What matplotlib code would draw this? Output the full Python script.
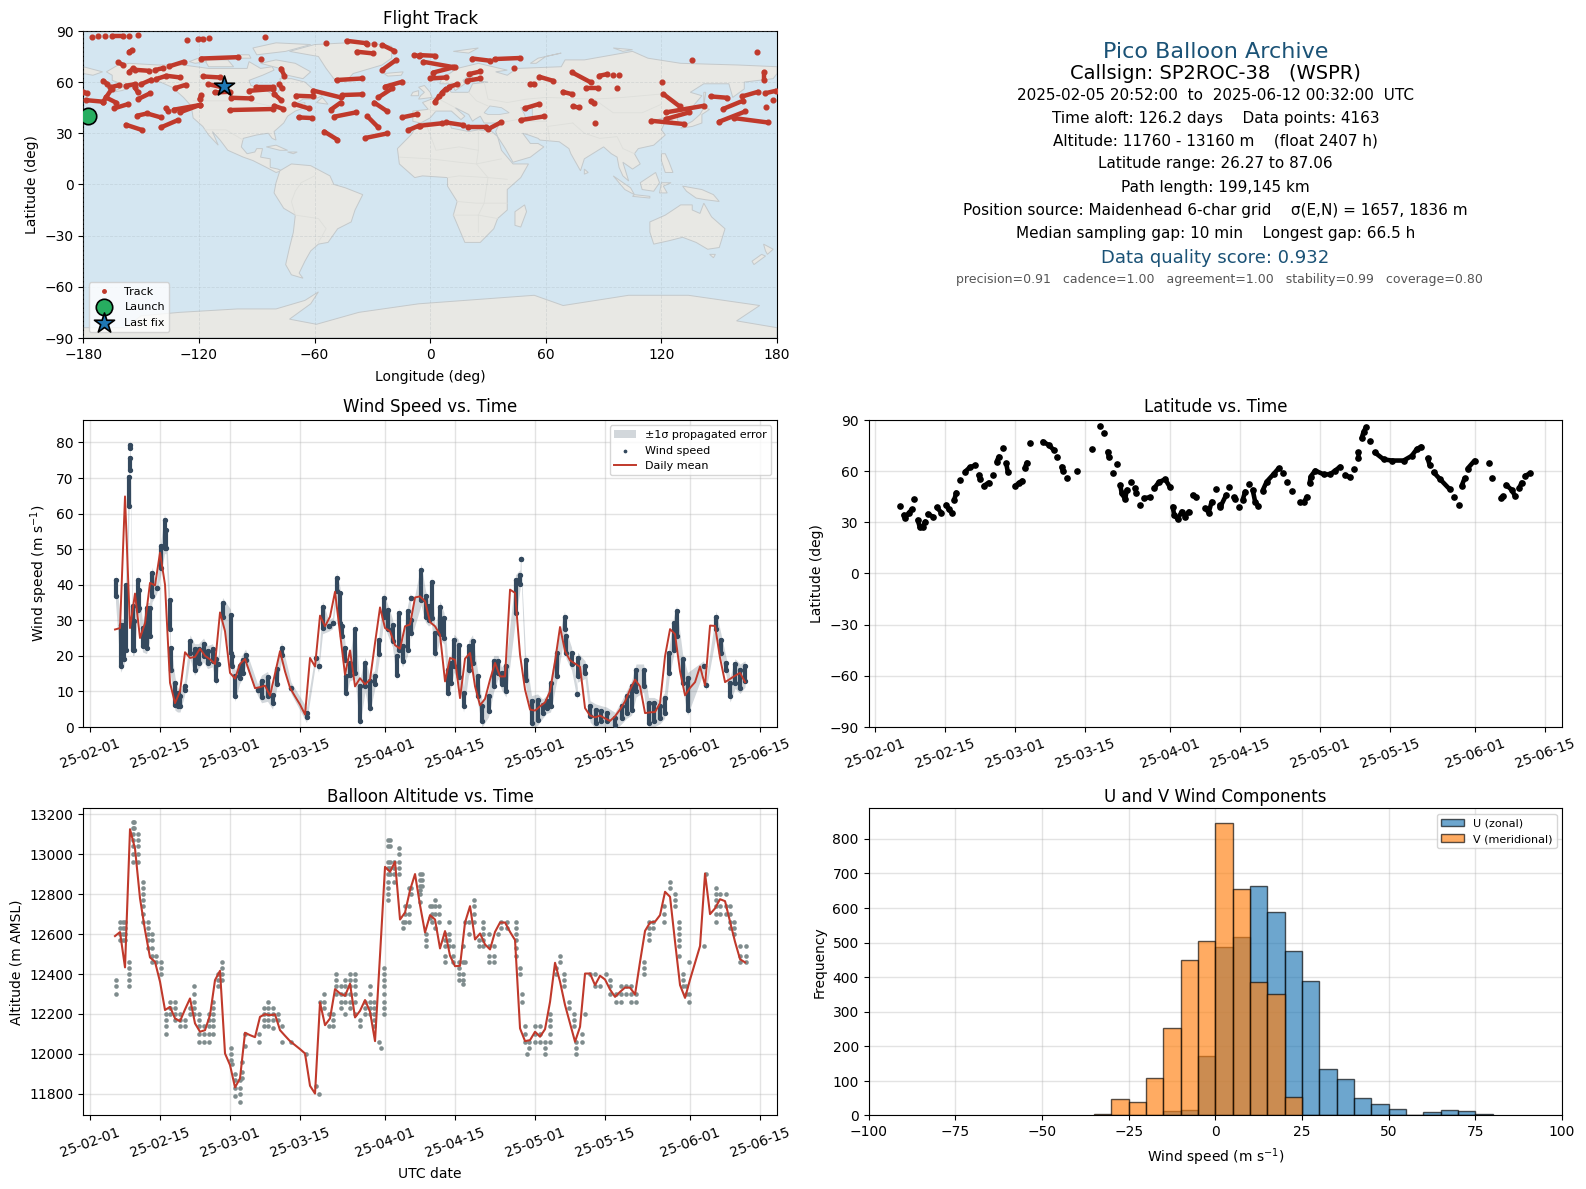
import datetime

import numpy as np
import matplotlib as mpl
mpl.use('Agg')
from matplotlib import pyplot as plt
from matplotlib.lines import Line2D
from matplotlib.patches import Polygon
import matplotlib.dates as mdates

W, H = 1586, 1189

# ---- wind speed ----
# daily means from 25-02-06 on
wind_daily = [27.4, 27.8, 64.8, 27.8, 37.5, 25, 29.2, 40.5, 39.8, 49, 40, 12.4, 6.7, 10, 21, 19.4, 19.7, 22, 20, 19,
              17.7, 32.2, 26.9, 15.2, 13.6, 17.7, 19.1, 15, 10.9, 11.2, 11.6, 8.8, 15, 21.3, 15.6, 11, 8.6, 6.3, 3.5,
              19.4, 17, 31.3, 28.3, 31, 38, 26.4, 14.7, 21.5, 11.4, 13.7, 12, 13.3, 23.6, 33.6, 27.8, 26.9, 23, 22,
              28.3, 28.8, 36.4, 36.7, 35.3, 29.5, 28.3, 25.9, 12.8, 19.4, 18.9, 8.1, 19.2, 20.8, 11.4, 6.1, 7.9, 13.3,
              18, 14.2, 14.2, 38.6, 37.7, 20.3, 10.5, 4.9, 4.6, 5.8, 6.9, 10, 18.5, 28.1, 21.3, 18.7, 17.8, 16.9, 5.3,
              3.2, 2.7, 3.2, 2.4, 1.7, 3, 4.9, 7.2, 10.5, 13.3, 11.4, 3.9, 4.1, 4.2, 6.7, 19.9, 27.5, 26.1, 15.6, 8.9,
              11, 12.6, 17, 11.7, 28.5, 28.4, 19.4, 12.6, 13.5, 14.4, 15.2, 12.6]
# stacks of points: day since 25-02-01, top and bottom of the stack
wind_stacks = [(5.1, 41.4, 36.7), (6.1, 28.8, 17), (6.8, 28.8, 19), (7.1, 40, 21.7), (7.8, 70.4, 62), (7.9, 75.6, 72.3),
               (8.0, 79.3, 78.4), (8.5, 34, 21.7), (8.8, 29.8, 21.7), (9.5, 41.4, 32.9), (9.7, 38.6, 33.5),
               (10.5, 27.8, 22.7), (11.3, 33.4, 22.2), (11.9, 33.4, 25.5), (12.4, 43.3, 36.7), (13.3, 39, 39),
               (14.2, 51, 44.8), (14.9, 58.3, 50.3), (15.2, 55.5, 50.3), (15.9, 35.8, 27.5), (16.1, 22.2, 16.1),
               (17, 12.4, 6.3), (17.5, 9.6, 5.8), (18, 8.6, 5.8), (18.9, 11.4, 10.5), (20, 24.3, 20.9),
               (20.9, 21.8, 16.1), (21.7, 21.8, 18), (22.7, 23.4, 19.9), (23.5, 21.3, 18), (24.5, 21.8, 18.5),
               (25.2, 19, 13.3), (25.6, 17.6, 17.6), (26.5, 34.8, 31), (28.1, 31.5, 20.8), (28.3, 19.9, 17),
               (29, 14.4, 8.8), (29.9, 17, 13.7), (30.5, 18.9, 15.2), (31.1, 20.3, 18.9), (33.5, 10.5, 10.5),
               (34.3, 13, 8.4), (35.5, 14, 8.8), (36.5, 9, 6.6), (37.3, 16.4, 12.2), (38.3, 22.2, 20.3), (40.2, 11, 11),
               (43.3, 3.9, 2.8), (45.1, 19.4, 19.4), (45.7, 17, 17), (46.5, 33.8, 27.8), (47.7, 28.5, 28.5),
               (48.5, 29.2, 29.2), (49.3, 41.9, 38.2), (50, 37.6, 29.2), (50.3, 28.3, 25.5), (51.0, 22.2, 18.9),
               (51.1, 14.2, 9.6), (51.9, 18, 14.5), (53, 27.5, 15.2), (53.9, 11.4, 1.6), (55, 18, 11.4),
               (55.9, 12.9, 5.4), (56.9, 14.2, 12), (57.8, 24.5, 20.4), (58.7, 36.2, 31), (59.5, 33, 27.5),
               (60.5, 28.8, 24.1), (61.3, 20, 14.7), (61.7, 32, 21.7), (62.5, 22.7, 18.5), (63.5, 32.5, 21.7),
               (64.1, 36.2, 36.2), (64.2, 30, 26.4), (66.2, 44.2, 35.8), (67.1, 36.7, 31), (67.7, 33.9, 30),
               (68.3, 40.7, 30.5), (69, 26.4, 20.8), (70, 33.8, 26.2), (70.8, 30.5, 24.9), (71.6, 16.1, 9.6),
               (72.1, 18, 12.4), (72.8, 24.5, 17), (73.7, 23, 14), (74.7, 9.6, 5.8), (75.7, 22.7, 16.1),
               (76.5, 24.3, 18), (77.5, 14.2, 8.6), (78.4, 5.8, 1.6), (79.7, 8.6, 4.4), (80.7, 18.5, 11.4),
               (81.6, 18.5, 15.2), (82.3, 15.2, 12), (83.2, 17, 10), (85.1, 41.2, 32), (86, 42.6, 40.3), (86.1, 47.2, 47.2),
               (87.1, 18.9, 13.3), (88.3, 7.2, 1.1), (89.5, 7.7, 2), (90.5, 6.3, 4), (91.3, 7.2, 5.4), (92.1, 12.4, 5.8),
               (93.3, 20.8, 14.2), (94.9, 31, 27.5), (95.2, 25.5, 20.8), (96.3, 20.8, 17.6), (97.4, 9.4, 9.4),
               (97.5, 19.4, 14.2), (99, 17, 15.2), (100, 5.8, 3), (101.1, 4.9, 1.1), (102.2, 4.4, 1.6), (103.3, 4, 1.6),
               (105, 2.5, 0.6), (106.3, 5.8, 2.5), (107.3, 8.6, 4), (108.3, 11.4, 4.9), (109.2, 16.1, 10),
               (110.7, 16.1, 11.4), (111.7, 6.7, 1.1), (112.8, 6.7, 1.6), (114, 5.8, 2.5), (114.9, 8.1, 4),
               (115.8, 20.8, 15.2), (116.7, 29.2, 21.7), (117.3, 32.5, 25.5), (118.5, 19, 12.4), (119.5, 13.7, 4.9),
               (122.7, 17, 17), (123.2, 11.9, 11.9), (125.2, 31, 27.5), (126.2, 24.5, 20.8), (127.2, 18, 16.1),
               (128, 12.4, 8.6), (129, 17.6, 12.4), (130, 16.1, 11), (131, 17, 12.8)]
wind_sigma = 1.6

# ---- altitude ----
alt_daily = [12590, 12610, 12433, 13126, 13029, 12779, 12620, 12483, 12461, 12361, 12219, 12235, 12177, 12163, 12222,
             12277, 12152, 12110, 12118, 12193, 12369, 12416, 12001, 11943, 11831, 11876, 12105, 12093, 12083, 12185,
             12198, 12193, 12197, 12118, 12090, 12063, 12043, 12023, 12001, 11839, 11800, 12257, 12143, 12177, 12324,
             12302, 12290, 12351, 12182, 12215, 12269, 12210, 12063, 12494, 12937, 12912, 12963, 12673, 12708, 12820,
             12901, 12745, 12608, 12695, 12673, 12528, 12615, 12491, 12439, 12441, 12658, 12740, 12573, 12603, 12548,
             12523, 12611, 12658, 12658, 12611, 12570, 12127, 12063, 12068, 12110, 12085, 12123, 12260, 12456, 12361,
             12244, 12152, 12060, 12135, 12402, 12402, 12344, 12391, 12372, 12322, 12285, 12310, 12332, 12331, 12297,
             12461, 12616, 12658, 12662, 12695, 12812, 12787, 12561, 12344, 12280, 12372, 12456, 12540, 12904, 12700,
             12729, 12775, 12765, 12662, 12561, 12474, 12458]
alt_stacks = [
    (5.1, [12370, 12340, 12300]), (5.9, [12660, 12630, 12600, 12570]), (6.5, [12660, 12630, 12600, 12570]),
    (7, [12660, 12630, 12600, 12570]), (7.8, [12460, 12430, 12400, 12370, 12340]),
    (8.5, [13160, 13130, 13100, 13070, 13040, 13000, 12960]), (8.8, [13160, 13130]),
    (9.5, [13100, 13070, 13040, 13000, 12960]), (10.5, [12860, 12830, 12800, 12770, 12740, 12700, 12660]),
    (11.5, [12660, 12630, 12600, 12570, 12530]), (12.4, [12600, 12570, 12530, 12490, 12460]), (13.2, [12490, 12460]),
    (14.2, [12460, 12430, 12400]), (15.1, [12200, 12170, 12140, 12100]), (15.9, [12260, 12230, 12200]),
    (17, [12260, 12230, 12200, 12170]), (18, [12200, 12170, 12140]), (19, [12170, 12140]), (19.9, [12230, 12200]),
    (20.7, [12340, 12300, 12260, 12230, 12200]), (21.7, [12200, 12170, 12140, 12100, 12060]),
    (22.8, [12140, 12100, 12060]), (23.7, [12200, 12170, 12140, 12100, 12060]),
    (24.5, [12260, 12230, 12200, 12170, 12140, 12100]), (25.5, [12400, 12370, 12340]),
    (26.3, [12460, 12430, 12400, 12370]), (28.1, [12030, 12000, 11970]), (28.3, [11950]),
    (29, [11900, 11870, 11830, 11790]), (29.9, [11870, 11830, 11800, 11760]), (30.3, [11960, 11910, 11880]),
    (31, [12100, 12040]), (33.7, [12100, 12060]), (34.7, [12230, 12200, 12170, 12140]),
    (35.5, [12260, 12230, 12200, 12170, 12140]), (36.5, [12230, 12200, 12170, 12130]), (37.5, [12200, 12170]),
    (38.3, [12140, 12060]), (40.1, [12060]), (43.2, [12000]), (45.1, [11840]), (45.7, [11800]), (46, [12260]),
    (46.7, [12300, 12260, 12230]), (47.7, [12200, 12140]), (48.5, [12200, 12170, 12140]),
    (49.2, [12400, 12370, 12340, 12300]), (50.1, [12340, 12300, 12260, 12230]),
    (51, [12370, 12340, 12300, 12260, 12200]), (52, [12400, 12370, 12340, 12300, 12260, 12230]),
    (53, [12400, 12370, 12340, 12300, 12260, 12200]), (54, [12170, 12140]), (54.9, [12260, 12230, 12200]),
    (55.9, [12340, 12300, 12260, 12230, 12200]), (56.8, [12260, 12230, 12200, 12170, 12140]), (57.7, [12060]),
    (58.1, [12030]), (58.7, [12430, 12400, 12370, 12340, 12300, 12260, 12230, 12200]),
    (59.5, [13070, 13040, 12960, 12930, 12900, 12860, 12830, 12800, 12770]), (59.9, [13070, 13040, 12960, 12930, 12900]),
    (60.7, [12960, 12930, 12900, 12860]), (61.7, [13030, 13000, 12960, 12930, 12900]), (62.5, [12660, 12630]),
    (63, [12740, 12700, 12660]), (63.7, [12830, 12740, 12700, 12660]), (64.2, [12830, 12800]),
    (66, [12900, 12870, 12840, 12820, 12800, 12760]), (66.3, [12900, 12870, 12840]), (67.1, [12600, 12570, 12540]),
    (67.9, [12740, 12680]), (68.3, [12740, 12700, 12660]), (68.9, [12770, 12740, 12700, 12630]),
    (69.8, [12740, 12700, 12660]), (70.9, [12600, 12570, 12540, 12490, 12460]), (71.8, [12660, 12600, 12570, 12540]),
    (72.5, [12540, 12490, 12460]), (73.7, [12460, 12430, 12400, 12370]), (74.5, [12540, 12460, 12400, 12370, 12350]),
    (75, [12660, 12460]), (75.7, [12660, 12600]), (76.7, [12770, 12740, 12700, 12660]), (77.7, [12570, 12540]),
    (78.5, [12660, 12630, 12600, 12570, 12540]), (79.7, [12600, 12540, 12490, 12460]), (80.7, [12540, 12490, 12460]),
    (81.5, [12600]), (82.1, [12660, 12630]), (83.3, [12660, 12630]), (85.2, [12660, 12630, 12600, 12570, 12530, 12490]),
    (86, [12430, 12400]), (86.3, [12300, 12260]), (87, [12140, 12100, 12060]), (87.7, [12060, 12030]), (87.3, [12000]),
    (89, [12140, 12100, 12060]), (90, [12140, 12100, 12060]), (91, [12060, 12030, 12000]),
    (91.9, [12200, 12170, 12140, 12100, 12060]), (93.2, [12430, 12400]), (93.9, [12490, 12460]),
    (94.8, [12400, 12370, 12340]), (95.7, [12260, 12230]), (96.7, [12200, 12170, 12140]), (97.2, [12060, 12030, 12000]),
    (98.3, [12100, 12060]), (99, [12200]), (100, [12400]), (101, [12400, 12340]), (102, [12340]), (103.1, [12400]),
    (104, [12370, 12340, 12300]), (105.2, [12300, 12260]), (106.1, [12340, 12300, 12260]), (107.1, [12340, 12300]),
    (108.1, [12340, 12300, 12260]), (109.2, [12300, 12260]), (110.7, [12460, 12430, 12400]),
    (111.7, [12660, 12630, 12600, 12570]), (112.5, [12660, 12630]), (114.7, [12740, 12700, 12660]),
    (115.9, [12860, 12830]), (116.9, [12800, 12770, 12740]), (117.7, [12660, 12630, 12600, 12570, 12540, 12490]),
    (118.5, [12400, 12370, 12340]), (119.2, [12340, 12300]), (119.7, [12460, 12300, 12260]), (122.7, [12540]),
    (123.2, [12900]), (125.1, [12830, 12800, 12770, 12740, 12700, 12660]), (126, [12800, 12740, 12700]),
    (127.2, [12800, 12740, 12700]), (128, [12740, 12700, 12660, 12630]), (128.8, [12660, 12630, 12600]),
    (130, [12540, 12490, 12460]), (131.1, [12540, 12490, 12460])]

# ---- latitude: runs of (day, lat) fixes ----
lat_runs = [
    [(5.0, 39.8)], [(5.7, 34.3), (6.0, 32.7), (6.7, 35.3), (7.3, 37.6)], [(7.8, 43.7)],
    [(8.5, 31.4), (8.9, 27.1), (9.5, 27.5), (10, 30.4)], [(10.5, 34.9), (11.5, 33.3)], [(12.3, 38.8), (13.2, 35.7)],
    [(14.2, 40.2), (14.7, 37.6), (15.3, 35.7)], [(15.8, 43.1), (16.2, 47.4)], [(17, 54.8)],
    [(18, 59.7), (18.9, 62.2), (20, 63.4)], [(20.7, 57.8), (21, 55.2)], [(21.7, 51.3), (22.7, 53.3)], [(23.5, 57.8)],
    [(24.3, 65.6), (24.7, 68.5)], [(25.5, 73.4)], [(26.2, 64.6), (26.5, 59.7)], [(28, 51.3), (28.7, 52.9), (29.4, 54.4)],
    [(29.9, 61.7), (30.3, 65)], [(31, 76.7)], [(33.5, 77.3), (34.7, 75.3), (35.7, 72.4)], [(36.4, 68.1)],
    [(37.3, 62.6), (37.5, 60.3)], [(38.3, 56)], [(40.3, 59.9)], [(43.3, 72.8)], [(45, 86.7)], [(45.7, 82.2)],
    [(46.5, 71.4), (46.7, 68.5)], [(48.3, 64)], [(47.5, 58.7)], [(49, 51.9), (49.3, 47), (50, 43.5), (50.3, 49)],
    [(51.1, 53.8)], [(52, 49.9), (52.2, 47.4)], [(53, 40.2)], [(53.8, 44.1), (55, 44.7)],
    [(55.8, 49.9), (56.7, 53.5), (58, 55.2), (58.9, 50.9)],
    [(59.5, 39.2), (59.8, 34.3), (60.5, 31.8), (61.3, 36.3), (62, 33.3), (62.7, 36.3)], [(63.5, 46), (64.2, 44.7)],
    [(66, 38.2), (66.7, 35.7), (67.3, 42.1)], [(68.1, 49.4)], [(68.9, 40.2), (69, 38.8), (70.2, 46)], [(70.8, 50.9)],
    [(71.7, 44.7), (72, 43.5)], [(72.7, 38.8)], [(73.5, 43.1), (74, 48)], [(74.7, 52.3)],
    [(75.5, 49), (76, 42), (76.6, 39.6)], [(77.5, 48.6), (78.3, 53.8), (79.7, 58.3), (80.7, 61.7)], [(81.5, 58.7)],
    [(82.3, 53.8)], [(83.3, 48.2)], [(85, 41.7), (85.8, 41.7), (86.3, 45)],
    [(86.9, 52.9), (87.1, 56.8), (88, 60.3), (89.7, 58.1), (91, 58.1), (92, 60.3), (93, 62.6)],
    [(94, 57.8), (94.9, 56.4)], [(95.7, 61)], [(96.5, 67.5), (96.5, 71.4)], [(97.3, 79.3), (97.7, 83.2), (98.2, 85.7)],
    [(99, 77.9)], [(99.9, 71), (101.7, 66.9), (103.3, 66.2), (105.7, 66.2), (107.3, 68.9), (108.3, 72.8), (109.2, 74.4)],
    [(110.5, 67.5), (110.9, 63.6)], [(111.7, 59.3), (113, 55.2), (114.9, 49.4)], [(115.8, 44.7)], [(116.7, 40.2)],
    [(117.3, 51.3), (117.9, 55.8)], [(118.5, 61.5), (119.9, 66.2)], [(122.7, 64.6)], [(123.3, 55.8)],
    [(125.2, 44.1), (125.5, 45.4)], [(126.2, 51.9), (127.3, 49), (128, 45.4)], [(128.8, 49.9), (129.3, 53.3)],
    [(130, 57.2), (131, 58.7)]]

# ---- histogram ----
bin_edges = np.arange(-35, 85, 5)
u_counts = [0, 0, 0, 0, 12, 17, 171, 486, 515, 663, 588, 475, 388, 135, 106, 50, 32, 20, 1, 9, 15, 12, 3]
v_counts = [5, 48, 40, 109, 254, 449, 504, 846, 655, 387, 350, 53, 2, 0, 0, 0, 0, 0, 0, 0, 0, 0, 0]

# ---- flight track on the map: runs of (lon, lat) ----
track_runs = [
    [(-175.3, 86.2)], [(-172.2, 86.8)], [(-168.8, 86.8)], [(-165, 86.8), (-159.3, 86.8)], [(-156.2, 86.8)],
    [(-151.6, 87.6)], [(-126.2, 84.6)], [(-120.5, 85.2), (-117.9, 85.2)], [(-115, 85.6)], [(-85.5, 86.2)],
    [(-156.2, 77.8), (-154.5, 78.8)], [(-161.9, 71.5), (-159.3, 70)], [(-156.2, 66), (-154.1, 68)],
    [(-153.3, 67.2), (-145.9, 66.6)], [(-142.9, 67), (-138.6, 68.2)], [(-135.5, 69.2), (-127.9, 71.9)],
    [(-169.7, 60.8), (-167.5, 58.8)], [(-166.2, 56.9), (-161.4, 58.2)], [(-157.9, 57.8), (-153.3, 58.8)],
    [(-153.3, 56.9), (-151.6, 53.9)], [(-150.3, 58.6), (-144.7, 61.4)], [(-142.1, 61.8), (-136.9, 63.7), (-129.7, 62.7)],
    [(-132.2, 56.5), (-126.9, 58.4)], [(-180, 53.9), (-177.9, 53.5)], [(-178.6, 49.4), (-169.7, 48.5)],
    [(-169.7, 48.5), (-165.3, 55.9)], [(-168.3, 51), (-163, 48)], [(-164, 44.6), (-156.7, 47.1)],
    [(-151.6, 50), (-145.2, 53.5)], [(-152, 40.3), (-146.9, 41.6), (-139.8, 39.3)], [(-137.2, 44.6), (-136, 43.2)],
    [(-133.1, 43.8), (-119.7, 46.5)], [(-130, 42.2), (-119.7, 46.5)], [(-119.7, 50), (-118.8, 52.4)],
    [(-157.9, 35), (-149.8, 32)], [(-139.8, 33.4), (-130.9, 37.7)], [(-117.9, 63.3), (-109, 62.7)],
    [(-115.3, 58.8), (-107.6, 56.9)], [(-111.9, 53.9), (-104.1, 54.3)], [(-103.3, 50.8), (-92.9, 50.4)],
    [(-104.1, 43.6), (-81.7, 44.2)], [(-93.8, 54.9), (-81.7, 55.9)], [(-90.3, 56.9), (-81.7, 56.9)],
    [(-118.8, 73.8), (-99.8, 74.6)], [(-87.8, 73.8)], [(-77.4, 67.9), (-75.7, 63.8)], [(-78.3, 58.8), (-76.9, 56.3)],
    [(-80.9, 53), (-77.4, 49.4)], [(-80.9, 46.1), (-76.2, 44.2)], [(-69.7, 52), (-61, 51.6)],
    [(-70.5, 47.1), (-63.1, 44.6)], [(-68.3, 39.3), (-61.4, 38.9)], [(-55, 31), (-48.1, 26.2)],
    [(-60.7, 55), (-46.4, 51)], [(-45.5, 52.4), (-35.2, 52.8)], [(-51.6, 43.8), (-46.4, 48)],
    [(-49.8, 39.7), (-38.6, 42.2)], [(-29.1, 48), (-22.2, 42.8)], [(-32.6, 39.9), (-26.9, 33.4)],
    [(-33.8, 27.2), (-22.2, 29.9)], [(-26.9, 51), (-19.7, 56.3)], [(-23.4, 57.3), (-14.5, 60.2)],
    [(-24.8, 67.2), (-17.6, 73)], [(-48.6, 61.2), (-35.5, 62.1)], [(-43.4, 84.2), (-33.4, 82.8)], [(-32.6, 82.2)],
    [(-29.1, 82.2)], [(-24.8, 81.7), (-18.8, 78.4)], [(-54.1, 82.8)], [(-38.1, 77.8), (-29.7, 76.8)],
    [(-14.5, 39.3), (-6.7, 41.2)], [(-11.4, 31.8), (-5.9, 34.4)], [(-8.4, 75.8), (-5.9, 75.4)],
    [(-5.3, 34.4), (5.9, 35.8)], [(8.4, 36.3), (17.1, 34.8)], [(19.7, 33.4), (28.8, 33.4)], [(30, 32.4), (36.6, 36.3)],
    [(-3.6, 71.9), (12.8, 68.6)], [(1.6, 65.6), (11.9, 68.6)], [(0, 62.1), (8.4, 62.7)], [(-5.3, 75.8), (2.4, 75.4)],
    [(21.9, 73.8), (31.2, 72.5)], [(33.4, 73.5), (46.4, 74.1)], [(43.4, 68.2)], [(20.2, 64.7), (26, 66.2)],
    [(19.1, 60.8), (26, 62.1)], [(2.4, 48.4), (4.7, 51.6)], [(5.9, 53.6), (8.1, 56)], [(9.8, 57.2), (14, 58.7)],
    [(51.9, 58.8), (54.1, 58.8)], [(56.7, 63.1), (63.6, 60.8)], [(73.6, 65.7), (83.4, 59.8)], [(87.8, 63.7), (92, 64.7)],
    [(94.7, 64.4)], [(98.1, 64.4)], [(80.9, 56.3), (86.9, 56.3)], [(96.7, 56.3)], [(68.8, 54.3), (73.6, 52.9)],
    [(74, 45.7), (77.4, 45.1)], [(83.4, 49), (84.8, 47.6)], [(85.5, 35.8)], [(49, 44.6), (56.4, 47.1)],
    [(46.9, 37.7), (59.3, 39.9)], [(120.5, 59.8)], [(121, 53), (129.5, 45.7)], [(114.8, 37.3), (131.7, 35.4)],
    [(122.2, 42.2), (142, 46.1)], [(122.2, 38.3), (134.3, 42.2)], [(145.5, 51.6), (154.1, 50.8)],
    [(151.9, 44.2), (162.2, 49)], [(149.8, 36.7), (163.6, 42.8)], [(157.6, 38.9), (175.3, 36.3)],
    [(161.9, 51.6), (170.2, 54.3)], [(174, 53.5), (179.5, 54.9)], [(178, 49.4)], [(174.3, 45.1)],
    [(173.1, 65.7), (173.1, 61.4)], [(169.7, 77.4)], [(135.7, 72.9)]]

launch_lon, launch_lat = -177.8, 40.0
last_lon, last_lat = -107.2, 57.8

# ---- coarse land outlines, lon/lat ----
land_polys = [
    [(-168, 66), (-162, 70), (-156, 71), (-141, 70), (-128, 70), (-115, 68), (-108, 68), (-95, 68), (-94, 72), (-88, 68),
     (-82, 69), (-81, 67), (-87, 64), (-94, 61), (-93, 58), (-85, 55), (-82, 53), (-80, 51), (-79, 54), (-77, 57),
     (-78, 62), (-72, 62), (-65, 60), (-61, 56), (-56, 52), (-60, 50), (-66, 50), (-70, 47), (-65, 48), (-65, 45),
     (-70, 43), (-74, 40), (-76, 36), (-81, 31), (-80, 26), (-82, 27), (-84, 30), (-90, 29), (-97, 27), (-98, 22),
     (-95, 18), (-91, 19), (-90, 21), (-87, 21), (-88, 16), (-83, 15), (-83, 10), (-79, 9), (-77, 8), (-80, 7), (-85, 10),
     (-92, 14), (-97, 16), (-105, 20), (-109, 26), (-113, 31), (-110, 23), (-115, 29), (-118, 34), (-123, 39), (-124, 46),
     (-128, 51), (-134, 57), (-140, 60), (-148, 60), (-153, 58), (-160, 55), (-165, 54), (-158, 58), (-165, 61),
     (-165, 64)],
    [(-73, 78), (-60, 82), (-35, 83.5), (-20, 81), (-20, 74), (-25, 70), (-40, 65), (-44, 60), (-50, 62), (-54, 68),
     (-58, 75)],
    [(-80, 73), (-70, 71), (-62, 66), (-66, 62), (-74, 64), (-78, 68), (-88, 71)],
    [(-117, 73), (-105, 73), (-102, 69), (-115, 69)],
    [(-90, 76), (-75, 78), (-62, 82), (-80, 83), (-92, 80)],
    [(-125, 72), (-118, 75), (-116, 72), (-122, 71)],
    [(-100, 76), (-94, 76), (-93, 74), (-100, 74)],
    [(-59, 48), (-53, 47), (-56, 51)],
    [(-85, 22), (-80, 23), (-74, 20), (-78, 20)],
    [(-74, 19), (-69, 19), (-71, 18)],
    [(-78, 8), (-72, 12), (-62, 11), (-52, 5), (-50, 0), (-44, -2), (-35, -6), (-39, -15), (-41, -22), (-48, -26),
     (-53, -34), (-58, -35), (-62, -39), (-65, -45), (-68, -52), (-66, -55), (-72, -53), (-75, -47), (-73, -37),
     (-71, -28), (-70, -18), (-76, -14), (-81, -5), (-80, 1)],
    [(-6, 36), (10, 37), (11, 33), (20, 31), (25, 32), (32, 31), (35, 28), (37, 20), (43, 12), (51, 12), (47, 4), (40, -3),
     (40, -15), (35, -20), (33, -26), (26, -34), (18, -34), (12, -18), (14, -10), (9, -1), (9, 4), (-4, 5), (-8, 4),
     (-16, 12), (-17, 21), (-10, 29)],
    [(-9, 37), (-9, 43), (-1, 44), (-4, 48), (3, 51), (8, 54), (8, 57), (11, 54), (20, 54), (22, 59), (30, 60), (22, 61),
     (22, 65), (17, 61), (18, 59), (13, 55), (11, 59), (5, 59), (6, 62), (14, 68), (25, 71), (40, 67), (34, 66), (40, 64),
     (45, 68), (68, 69), (70, 73), (80, 73), (105, 78), (113, 74), (130, 71), (160, 70), (180, 69), (180, 65), (178, 62),
     (163, 60), (163, 56), (157, 51), (155, 59), (142, 59), (135, 54), (141, 52), (135, 44), (128, 40), (129, 35),
     (126, 35), (125, 40), (121, 39), (118, 38), (122, 37), (120, 32), (122, 29), (116, 23), (108, 21), (106, 18),
     (109, 12), (105, 9), (100, 13), (103, 2), (100, 5), (98, 10), (97, 16), (94, 18), (90, 22), (80, 15), (78, 8),
     (73, 18), (72, 21), (67, 25), (57, 26), (56, 27), (51, 29), (48, 30), (52, 24), (56, 24), (59, 22), (52, 16), (43, 13),
     (39, 21), (35, 28), (34, 31), (36, 36), (28, 36), (26, 40), (23, 38), (22, 37), (20, 41), (13, 45), (18, 40), (16, 38),
     (11, 43), (3, 43), (0, 39), (-5, 36)],
    [(-180, 69), (-170, 66), (-175, 64), (-180, 65)],
    [(-6, 50), (1, 51), (0, 54), (-3, 58), (-6, 57), (-3, 54), (-5, 52)],
    [(-10, 52), (-6, 52), (-6, 55), (-9, 54)],
    [(-24, 65), (-14, 66), (-15, 64), (-22, 63.5)],
    [(12, 78), (25, 80), (20, 77)],
    [(52, 71), (56, 74), (68, 77), (60, 75), (55, 71)],
    [(95, 80), (105, 79), (100, 78)],
    [(130, 33), (136, 34), (141, 36), (141, 41), (145, 44), (142, 45), (140, 41), (136, 37), (131, 34)],
    [(142, 46), (143, 54), (142, 54)],
    [(44, -16), (49, -12), (50, -16), (47, -25), (44, -24)],
    [(80, 9), (82, 7), (80, 6)],
    [(95, 5), (104, -2), (106, -6), (101, -3)],
    [(105, -7), (114, -8), (114, -7), (106, -6)],
    [(109, 1), (117, 7), (119, 1), (116, -4), (110, -3)],
    [(119, -5), (120, 1), (125, 1), (121, -1), (123, -5)],
    [(120, 18), (122, 18), (124, 13), (126, 7), (122, 7), (120, 14)],
    [(131, -1), (141, -3), (147, -6), (150, -10), (143, -9), (138, -8), (133, -4)],
    [(114, -22), (122, -18), (130, -12), (136, -12), (136, -15), (140, -17), (142, -11), (146, -19), (153, -26), (150, -37),
     (144, -38), (138, -34), (131, -31), (124, -33), (116, -35), (114, -28)],
    [(145, -41), (148, -41), (147, -43)],
    [(173, -35), (178, -38), (175, -41), (174, -39)],
    [(172, -41), (174, -42), (168, -47), (167, -45)],
    [(-180, -90), (-180, -84), (-158, -84), (-150, -77), (-130, -75), (-100, -73), (-80, -73), (-65, -68), (-58, -63),
     (-62, -70), (-73, -79), (-59, -82), (-37, -75), (-6, -70), (54, -65), (69, -71), (103, -65), (134, -65), (171, -71),
     (159, -80), (180, -84), (180, -90)],
]
sea_polys = [
    [(28, 42), (31, 46), (37, 45), (41, 42), (36, 41), (30, 41)],
    [(47, 45), (53, 46), (53, 38), (50, 37), (49, 41)],
]
border_lines = [
    [(-123, 49), (-95, 49), (-83, 46), (-75, 45), (-67, 47)],
    [(-117, 32), (-106, 32), (-97, 26)],
    [(-141, 70), (-141, 60)],
    [(-70, -18), (-58, -20), (-54, -26), (-58, -34)],
    [(-70, -18), (-72, -10), (-70, -4), (-67, 1), (-60, 5)],
    [(-16, 16), (0, 15), (15, 13), (24, 12), (37, 15)],
    [(9, 4), (15, 5), (30, 4), (40, 3)],
    [(14, -10), (24, -11), (40, -11)],
    [(12, -18), (25, -18), (35, -20)],
    [(25, 32), (25, 20), (24, 12), (30, 4), (28, -11), (25, -18), (25, -28)],
    [(-2, 35), (3, 20), (15, 22), (25, 20)],
    [(28, 60), (30, 50), (40, 48), (50, 50), (60, 51), (85, 50), (100, 51), (120, 53), (130, 48), (135, 44)],
    [(85, 50), (95, 42), (110, 42), (120, 47)],
    [(60, 37), (50, 37), (45, 38), (36, 36)],
    [(74, 36), (80, 30), (88, 27), (97, 28), (100, 21), (106, 18)],
    [(62, 26), (61, 34), (74, 36)],
    [(3, 51), (8, 48), (13, 45)],
    [(-1, 44), (3, 43)],
    [(20, 54), (24, 49), (30, 46)],
]

date_ticks = ['2025-02-01', '2025-02-15', '2025-03-01', '2025-03-15', '2025-04-01', '2025-04-15', '2025-05-01',
              '2025-05-15', '2025-06-01', '2025-06-15']

info_lines = [('Pico Balloon Archive', 51.6, 16, '#1a5276', 0),
              ('Callsign: SP2ROC-38   (WSPR)', 73.5, 14, 'black', 0),
              ('2025-02-05 20:52:00  to  2025-06-12 00:32:00  UTC', 95, 11, 'black', 0),
              ('Time aloft: 126.2 days    Data points: 4163', 118.5, 11, 'black', 0),
              ('Altitude: 11760 - 13160 m    (float 2407 h)', 141, 11, 'black', 0),
              ('Latitude range: 26.27 to 87.06', 163.5, 11, 'black', 0),
              ('Path length: 199,145 km', 187.5, 11, 'black', 0),
              ('Position source: Maidenhead 6-char grid    \u03c3(E,N) = 1657, 1836 m', 210.5, 11, 'black', 0),
              ('Median sampling gap: 10 min    Longest gap: 66.5 h', 233.5, 11, 'black', 0),
              ('Data quality score: 0.932', 258, 13, '#1a5276', 0),
              ('precision=0.91   cadence=1.00   agreement=1.00   stability=0.99   coverage=0.80', 279, 9, '#555555', 4)]

RED = '#c0392b'
NAVY = '#34495e'
GREY = '#7f8c8d'


def panel(fig, left, top, right, bottom):
    return fig.add_axes([left / W, 1 - bottom / H, (right - left) / W, (bottom - top) / H])


def day_num(days):
    return mdates.date2num(datetime.datetime(2025, 2, 1)) + np.asarray(days, dtype=float)


def style_time(ax):
    ax.set_xlim(day_num(-1.34), day_num(137.4))
    ax.set_xticks([mdates.datestr2num(d) for d in date_ticks])
    ax.xaxis.set_major_formatter(mdates.DateFormatter('%y-%m-%d'))
    ax.tick_params(axis='x', labelrotation=20)
    ax.grid(True, color='#b0b0b0', alpha=0.35, lw=1.0)
    ax.set_axisbelow(True)


fig = plt.figure(figsize=(W / 100 + 0.001, H / 100 + 0.001), dpi=100)

LEFT, RIGHT = (83.3, 777), (868.5, 1562)
ROW1, ROW2, ROW3 = (31, 338), (420, 727), (808.5, 1115.5)

# flight track
ax = panel(fig, LEFT[0], ROW1[0], LEFT[1], ROW1[1])
ax.set_facecolor('#d4e6f1')
for poly in land_polys:
    ax.add_patch(Polygon(poly, closed=True, fc='#e8e8e4', ec='#c4c9cb', lw=0.7, zorder=1))
for poly in sea_polys:
    ax.add_patch(Polygon(poly, closed=True, fc='#d4e6f1', ec='#c4c9cb', lw=0.6, zorder=1.1))
for line in border_lines:
    xy = np.array(line)
    ax.plot(xy[:, 0], xy[:, 1], color='#dedfdb', lw=0.6, zorder=1.2)
ax.grid(True, color='#9aa5ab', alpha=0.25, lw=0.6, ls='--', zorder=2)
ax.set_axisbelow(False)
for run in track_runs:
    xy = np.array(run)
    ax.plot(xy[:, 0], xy[:, 1], '-o', color=RED, lw=3.2, ms=3.4, solid_capstyle='round', zorder=3)
launch = ax.scatter([launch_lon], [launch_lat], s=140, c='#27ae60', edgecolors='black', lw=1.2, zorder=5, label='Launch')
last = ax.scatter([last_lon], [last_lat], s=230, c='#1f77b4', marker='*', edgecolors='black', lw=1.2, zorder=6,
                  label='Last fix')
track_handle = Line2D([], [], ls='none', marker='o', ms=2.5, color=RED, label='Track')
ax.legend(handles=[track_handle, launch, last], loc='lower left', fontsize=8)
ax.set_xlim(-180, 180)
ax.set_ylim(-90, 90)
ax.set_xticks(np.arange(-180, 181, 60))
ax.set_yticks(np.arange(-90, 91, 30))
ax.set_xlabel('Longitude (deg)', labelpad=6)
ax.set_ylabel('Latitude (deg)')
ax.set_title('Flight Track', pad=5)

# text block
ax = panel(fig, RIGHT[0], ROW1[0], RIGHT[1], ROW1[1])
ax.axis('off')
for text, y, size, color, shift in info_lines:
    ax.text(0.5 + shift / (RIGHT[1] - RIGHT[0]), 1 - (y - ROW1[0]) / (ROW1[1] - ROW1[0]), text, ha='center', va='center',
            fontsize=size, color=color, transform=ax.transAxes)

# wind speed
ax = panel(fig, LEFT[0], ROW2[0], LEFT[1], ROW2[1])
stacks = np.array(wind_stacks)
t = day_num(stacks[:, 0])
hi = stacks[:, 1]
lo = stacks[:, 2]
ax.fill_between(t, lo - wind_sigma, hi + wind_sigma, color=NAVY, alpha=0.22, lw=0, label='\u00b11\u03c3 propagated error')
ax.vlines(t, lo, hi, color=NAVY, lw=3.0, capstyle='round', zorder=3)
ax.scatter(np.r_[t, t], np.r_[hi, lo], s=8, color=NAVY, zorder=3, label='Wind speed')
ax.plot(day_num(5 + np.arange(len(wind_daily))), wind_daily, color=RED, lw=1.4, zorder=4, label='Daily mean')
ax.set_ylim(0, 86.3)
ax.set_ylabel('Wind speed (m s$^{-1}$)')
ax.set_title('Wind Speed vs. Time')
ax.legend(loc='upper right', fontsize=8, markerscale=0.6)
style_time(ax)

# latitude
ax = panel(fig, RIGHT[0], ROW2[0], RIGHT[1], ROW2[1])
for run in lat_runs:
    xy = np.array(run)
    ax.plot(day_num(xy[:, 0]), xy[:, 1], '-o', color='black', lw=3.3, ms=3.8, solid_capstyle='round')
ax.set_ylim(-90, 90)
ax.set_yticks(np.arange(-90, 91, 30))
ax.set_ylabel('Latitude (deg)')
ax.set_title('Latitude vs. Time')
style_time(ax)

# altitude
ax = panel(fig, LEFT[0], ROW3[0], LEFT[1], ROW3[1])
for day, levels in alt_stacks:
    ax.scatter(day_num([day] * len(levels)), levels, s=11, color=GREY, lw=0, zorder=3)
ax.plot(day_num(5 + np.arange(len(alt_daily))), alt_daily, color=RED, lw=1.5, zorder=4)
ax.set_ylim(11690, 13230)
ax.set_yticks(np.arange(11800, 13201, 200))
ax.set_xlabel('UTC date', labelpad=5)
ax.set_ylabel('Altitude (m AMSL)')
ax.set_title('Balloon Altitude vs. Time', pad=5)
style_time(ax)

# U and V
ax = panel(fig, RIGHT[0], ROW3[0], RIGHT[1], ROW3[1])
mids = (bin_edges[:-1] + bin_edges[1:]) / 2
ax.hist(mids, bins=bin_edges, weights=u_counts, color='#1f77b4', alpha=0.65, ec='black', label='U (zonal)')
ax.hist(mids, bins=bin_edges, weights=v_counts, color='#ff7f0e', alpha=0.65, ec='black', label='V (meridional)')
ax.set_xlim(-100, 100)
ax.set_ylim(0, 888)
ax.set_xticks(np.arange(-100, 101, 25))
ax.set_xlabel('Wind speed (m s$^{-1}$)', labelpad=5)
ax.set_ylabel('Frequency')
ax.set_title('U and V Wind Components', pad=5)
ax.grid(True, color='#b0b0b0', alpha=0.35, lw=1.0)
ax.set_axisbelow(True)
ax.legend(loc='upper right', fontsize=8)

fig.savefig('out.png', dpi=100)
